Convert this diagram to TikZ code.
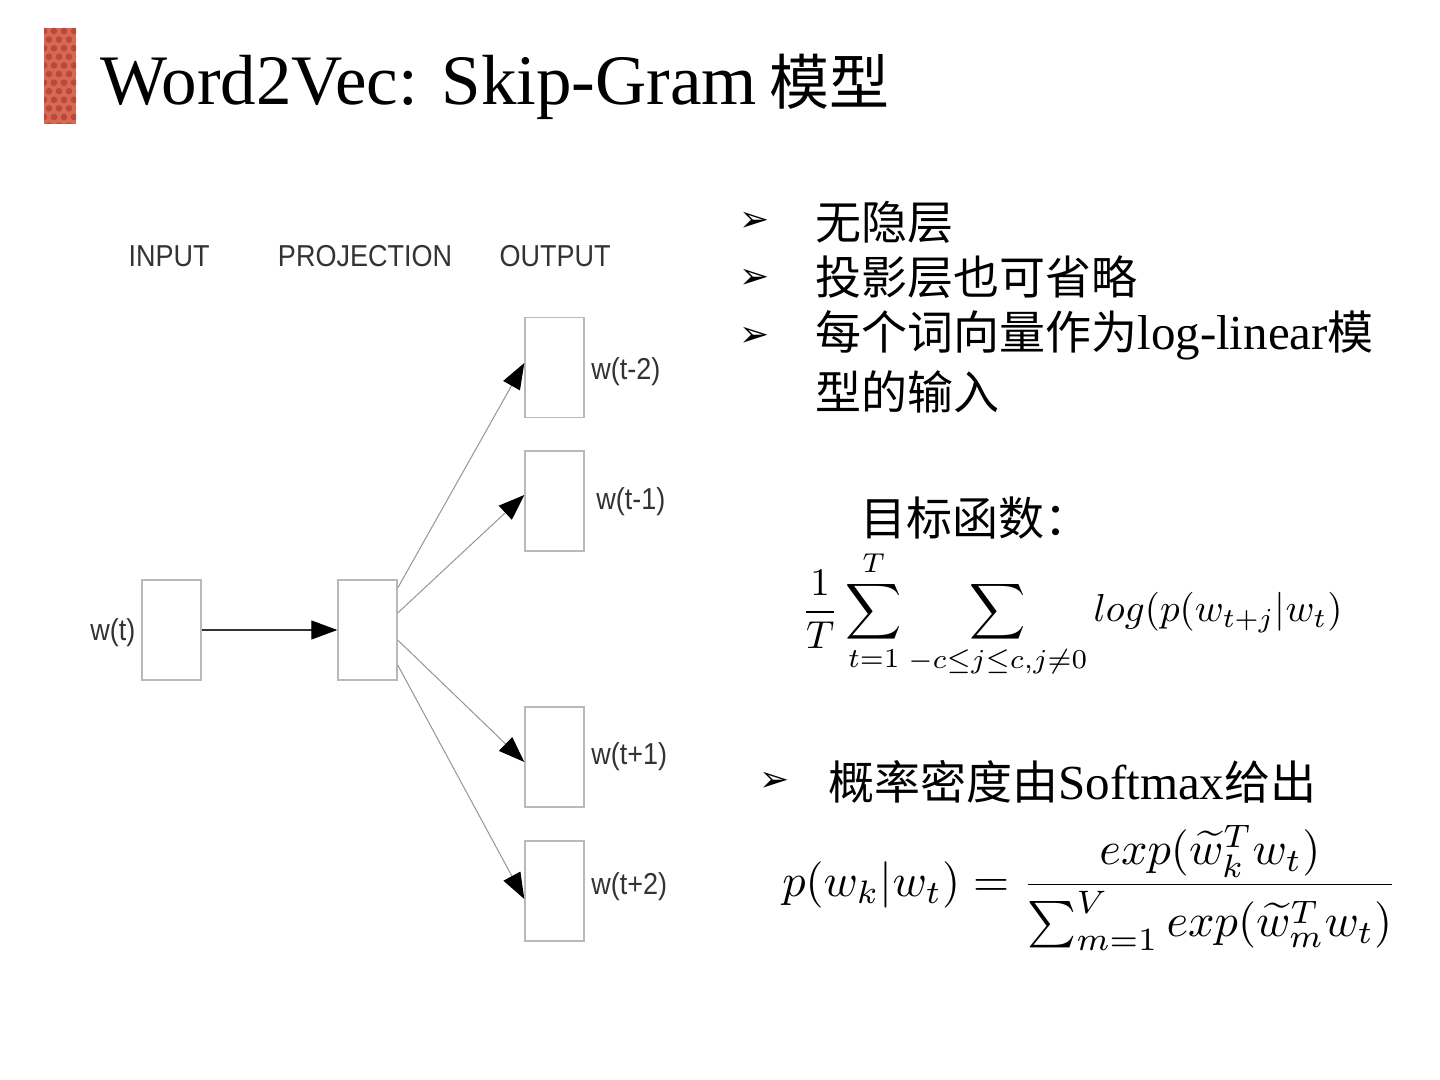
\documentclass[tikz,border=0pt]{standalone}
\usepackage[no-math]{fontspec}
\setmainfont{Liberation Serif}
\newfontfamily\cjk{Noto Sans CJK SC}
\newfontfamily\symfont{DejaVu Sans}
\newfontfamily\labelfont{Liberation Sans}
\usetikzlibrary{arrows.meta,calc}

\definecolor{barred}{RGB}{214,104,84}
\definecolor{bardot}{RGB}{185,74,58}
\definecolor{boxgray}{RGB}{185,185,185}
\definecolor{linegray}{RGB}{150,150,150}
\definecolor{labelink}{RGB}{51,51,51}

\newcommand\zh[1]{{\fontsize{23}{28}\selectfont\cjk #1}}
\newcommand\tallsans[1]{\scalebox{1}[1.12]{#1}}

\begin{document}
\begin{tikzpicture}[x=0.5pt,y=-0.5pt,
  layerbox/.style={draw=boxgray,line width=0.7pt,fill=white,
    minimum width=29.5pt,minimum height=50pt,inner sep=0pt},
  headlabel/.style={font=\labelfont\fontsize{13.5}{16}\selectfont,
    text=labelink,inner sep=0pt},
  wordlabel/.style={headlabel,anchor=west},
  flow/.style={draw=linegray,line width=0.5pt,
    -{Triangle[length=13pt,width=9.5pt,color=black]}},
  mainflow/.style={flow,draw=labelink,line width=0.6pt},
  bullet/.style={font=\symfont\fontsize{18}{20}\selectfont,anchor=west,inner sep=0pt},
  bodytext/.style={font=\fontsize{24.5}{30}\selectfont,anchor=west,inner sep=0pt},
]
\useasboundingbox (0,0) rectangle (1440,1080);
\fill[white] (0,0) rectangle (1440,1080);

% dotted red bar beside the title
\fill[barred] (44,28) rectangle (76,124);
\begin{scope}
  \clip (44,28) rectangle (76,124);
  \foreach \r in {0,...,11} {
    \pgfmathsetmacro\yy{31+\r*8.6}
    \pgfmathsetmacro\xo{mod(\r,2)==0 ? 0 : 5}
    \foreach \c in {0,...,3} {
      \fill[bardot] (44+\xo+\c*10,\yy) circle[radius=3.3];
    }
  }
\end{scope}

% title
\node[anchor=base west,inner sep=0pt,font=\fontsize{35.5}{40}\selectfont] (title) at (100,105)
  {Word2Vec: Skip-Gram\hspace{6pt}{\fontsize{30}{36}\selectfont\cjk 模型}};

% skip-gram network
\node[headlabel] (hin)   at (169,256) {\tallsans{INPUT}};
\node[headlabel] (hproj) at (365,256) {\tallsans{PROJECTION}};
\node[headlabel] (hout)  at (555,256) {\tallsans{OUTPUT}};

\node[layerbox] (in)   at (171.5,630) {};
\node[layerbox] (proj) at (367.5,630) {};
\node[layerbox] (o1)   at (554.5,367.5) {};
\node[layerbox] (o2)   at (554.5,501) {};
\node[layerbox] (o3)   at (554.5,757) {};
\node[layerbox] (o4)   at (554.5,891) {};

\node[wordlabel] (lin) at (90,633)  {\tallsans{w(t)}};
\node[wordlabel] (l1)  at (591,372) {\tallsans{w(t-2)}};
\node[wordlabel] (l2)  at (596,502) {\tallsans{w(t-1)}};
\node[wordlabel] (l3)  at (591,757) {\tallsans{w(t+1)}};
\node[wordlabel] (l4)  at (591,887) {\tallsans{w(t+2)}};

\draw[mainflow] (in.east) -- (proj.west);
\draw[flow] ($(proj.east)+(0,-42)$) -- ($(o1.west)+(0,-4.5)$);
\draw[flow] ($(proj.east)+(0,-17)$) -- ($(o2.west)+(0,-6)$);
\draw[flow] ($(proj.east)+(0,10)$)  -- ($(o3.west)+(0,5)$);
\draw[flow] ($(proj.east)+(0,35)$)  -- ($(o4.west)+(0,8)$);

% notes
\node[bullet] (b1) at (739,222) {➢};
\node[bullet] (b2) at (739,279) {➢};
\node[bullet] (b3) at (739,337) {➢};
\node[bodytext] (t1) at (815,222) {\zh{无隐层}};
\node[bodytext] (t2) at (815,277) {\zh{投影层也可省略}};
\node[bodytext] (t3) at (815,335) {\zh{每个词向量作为}log-linear\zh{模}};
\node[bodytext] (t4) at (815,392) {\zh{型的输入}};

\node[bodytext] (objlabel) at (860,518) {\zh{目标函数：}};
\node (objective) at (1072,614)
  {\scalebox{1.95}{$\displaystyle \frac{1}{T}\sum_{t=1}^{T}\sum_{-c\le j\le c,j\ne 0} log(p(w_{t+j}|w_t)$}};

\node[bullet] (b4) at (759,782) {➢};
\node[bodytext] (t5) at (828,782) {\zh{概率密度由}Softmax\zh{给出}};
\node (softmax) at (1090,888)
  {\scalebox{2.32}{$\displaystyle p(w_k|w_t)=\frac{exp(\widetilde{w}_k^T w_t)}{\sum_{m=1}^{V} exp(\widetilde{w}_m^T w_t)}$}};
\end{tikzpicture}
\end{document}
